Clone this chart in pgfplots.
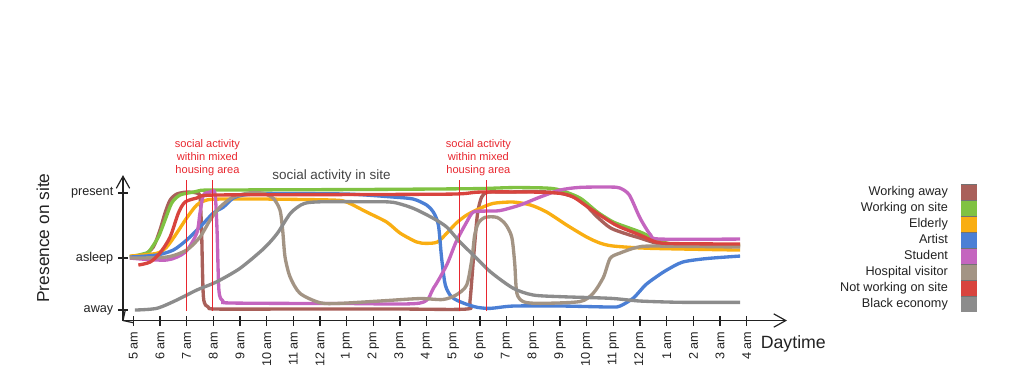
\documentclass[border=0pt]{standalone}
\usepackage{fontspec}
\setmainfont{Liberation Sans}
\usepackage{pgfplots}
\pgfplotsset{compat=1.18}
\usetikzlibrary{arrows.meta}
\definecolor{cWA}{HTML}{A9605A}
\definecolor{cWS}{HTML}{80C242}
\definecolor{cEL}{HTML}{F9AE12}
\definecolor{cAR}{HTML}{4B7FD5}
\definecolor{cST}{HTML}{C465BF}
\definecolor{cHV}{HTML}{A39484}
\definecolor{cNW}{HTML}{D8443E}
\definecolor{cBE}{HTML}{8C8C8C}
\definecolor{cAnn}{HTML}{E8272F}
\definecolor{cTxt}{HTML}{222222}
\begin{document}
\begin{tikzpicture}[x=1pt,y=1pt]
\path[use as bounding box] (0,0) rectangle (768,292.5);
\begin{axis}[
  at={(92.25pt,52.1pt)}, anchor=south west,
  scale only axis, width=498pt, height=109.1pt,
  xmin=-0.386, xmax=24.51, ymin=-10.5, ymax=135,
  axis x line=bottom, axis y line=left,
  axis line style={line width=0.9pt, cTxt, -{Straight Barb[length=9pt,width=10pt]}},
  xtick={0,...,23},
  xticklabels={5 am,6 am,7 am,8 am,9 am,10 am,11 am,12 am,1 pm,2 pm,3 pm,4 pm,5 pm,6 pm,7 pm,8 pm,9 pm,10 pm,11 pm,12 pm,1 am,2 am,3 am,4 am},
  ytick={0,52,117},
  yticklabels={away,asleep,present},
  xtick align=center, ytick align=center, major tick length=7.5pt,
  tick style={line width=0.9pt, cTxt},
  xticklabel shift=1pt,
  xticklabel style={rotate=90, anchor=east, font=\fontsize{9.5}{11}\selectfont, text=cTxt},
  yticklabel style={font=\fontsize{9.5}{11}\selectfont, text=cTxt},
  ylabel={Presence on site},
  ylabel style={at={(axis description cs:-0.1205,0.567)}, anchor=center, font=\fontsize{13}{15}\selectfont, text=cTxt},
  xlabel={Daytime},
  xlabel style={at={(axis description cs:1.0095,-0.161)}, anchor=center, font=\fontsize{13.3}{15}\selectfont, text=cTxt},
  clip=false,
  legend plot pos=right,
  legend image code/.code={\draw[#1, line width=11.8pt, line cap=butt] (0pt,0pt) -- (12pt,0pt);
     \draw[black!55, line width=0.4pt] (0pt,5.9pt) -- (12pt,5.9pt);},
  legend style={at={(axis description cs:1.298,0.9386)}, anchor=north east, draw=none, fill=none,
     font=\fontsize{9.5}{11}\selectfont, text=cTxt, row sep=0pt, column sep=3.75pt, inner sep=0pt,
     nodes={inner sep=0pt, minimum height=11.8pt}},
  legend cell align=right,
  every axis plot/.append style={line width=2.5pt, smooth, tension=0.45},
]
% Working away
\addplot[cWA] coordinates {(-0.13,53) (0.38,55) (0.75,63) (1,80) (1.19,97) (1.38,110) (1.63,116) (2,118) (2.38,117) (2.5,113) (2.56,80) (2.63,13) (2.81,3) (3.13,1) (6,1) (10,1) (12.5,1) (12.62,8) (12.75,50) (12.9,95) (13.06,113) (13.3,118) (14,118) (15,118.5) (16,117) (16.75,110) (17.4,93) (17.9,82) (18.5,76) (19,72) (19.6,67) (20.2,65) (22.75,64)};
\addlegendentry{Working away}
% Working on site
\addplot[cWS] coordinates {(-0.13,53) (0.5,57) (0.63,60) (0.94,73) (1.19,90) (1.44,107) (1.75,115) (2.25,118) (2.5,119.5) (3,120) (8,120.5) (11,121) (13,121.5) (14.25,122.5) (15.5,122) (16,120) (16.75,112) (17.4,98) (18,88) (18.6,82) (19.1,77) (19.6,70) (20,67) (20.5,65.5) (22.75,65)};
\addlegendentry{Working on site}
% Elderly
\addplot[cEL] coordinates {(-0.13,54) (0.875,56.7) (1.25,63) (1.63,77) (2,92) (2.38,105) (2.75,110) (3.25,111) (5,111) (7.5,110) (8,108) (8.75,98) (9.5,88) (10,77) (10.63,68) (11,66.7) (11.4,68) (11.75,76.7) (12.1,86.7) (12.5,95) (13,101.7) (13.5,106.7) (14.25,108) (14.9,105) (15.5,98) (16.25,85) (17,73) (17.5,67) (18,64) (19.4,61.7) (22.75,60)};
\addlegendentry{Elderly}
% Artist
\addplot[cAR] coordinates {(-0.13,53) (0.875,55) (1.5,60) (2,70) (2.5,83) (3,97) (3.38,103) (3.75,112) (4.13,115) (5,116.5) (8,116) (9.75,113) (10.5,111) (11,105) (11.25,98) (11.44,85) (11.56,52) (11.7,25) (11.94,13) (12.4,6.7) (12.9,2.7) (13.4,1.7) (14.25,4) (16.1,4) (17.9,3) (18.25,4) (18.75,12) (19.2,25) (19.6,33) (20,40) (20.6,48) (21.5,51.5) (22.75,54)};
\addlegendentry{Artist}
% Student
\addplot[cST] coordinates {(-0.13,52) (1.25,50) (1.95,58) (2.38,77) (2.5,97) (2.63,115) (2.88,118) (3.06,117) (3.14,80) (3.21,20) (3.36,9) (3.74,7) (8,6.5) (10.75,7) (11.25,21.7) (11.75,45) (12.1,68) (12.5,88) (12.75,98) (13.25,99) (13.75,99.5) (14.5,105) (15.25,113) (16,120) (16.75,122.7) (17.9,123) (18.25,122) (18.6,115) (19,92) (19.4,75) (19.75,71) (22.75,71)};
\addlegendentry{Student}
% Hospital visitor
\addplot[cHV] coordinates {(-0.13,52) (1.25,53) (2,60) (2.5,73) (2.88,90) (3.25,103) (3.75,113) (4.38,117.3) (4.88,116.7) (5.25,111.7) (5.5,100) (5.6,80) (5.69,53) (5.88,33) (6.25,16.7) (7,7.3) (7.75,6.7) (9.4,9.3) (10.75,11.5) (11.6,10.5) (12.1,15) (12.5,25) (12.7,52) (12.8,75) (12.94,87) (13.19,92.7) (13.63,92.7) (13.95,86) (14.19,73) (14.3,47) (14.38,17) (14.63,8.3) (15.25,6.7) (16.75,8.5) (17.25,17) (17.63,33) (17.88,51.7) (18.25,57) (18.88,62.7) (19.5,64) (22.75,63)};
\addlegendentry{Hospital visitor}
% Not working on site
\addplot[cNW] coordinates {(0.19,45) (0.63,48) (1,57) (1.38,73) (1.69,97) (1.94,108) (2.38,112) (3,115) (8,115.5) (12,116) (13,118) (15,118) (16,116.7) (16.5,113) (17.1,102) (17.9,88) (18.25,83) (19,75) (19.6,68) (20.2,66.5) (22.75,66)};
\addlegendentry{Not working on site}
% Black economy
\addplot[cBE] coordinates {(0.06,0) (0.88,1.7) (1.63,10) (2.38,20) (3.13,28.3) (4,41.7) (4.9,61.7) (5.4,76.7) (5.9,97) (6.4,106.5) (7.1,108.3) (8.9,108.3) (9.75,107.7) (10.5,101.7) (11.25,91.7) (11.75,83) (12.25,68) (12.75,55) (13.4,38) (14.25,21.7) (15,15) (16.1,13.3) (17.9,11.7) (19,9) (20.6,7.7) (22.75,7.7)};
\addlegendentry{Black economy}
% annotation lines
\addplot[cAnn, line width=0.7pt, sharp plot, forget plot] coordinates {(1.98,-1) (1.98,130)};
\addplot[cAnn, line width=0.7pt, sharp plot, forget plot] coordinates {(2.98,-1) (2.98,130)};
\addplot[cAnn, line width=0.7pt, sharp plot, forget plot] coordinates {(12.22,-1) (12.22,130)};
\addplot[cAnn, line width=0.7pt, sharp plot, forget plot] coordinates {(13.25,-1) (13.25,130)};
\node[text=cAnn, align=center, font=\fontsize{8.3}{9.6}\selectfont] at (axis cs:2.78,152.7) {social activity\\within mixed\\housing area};
\node[text=cAnn, align=center, font=\fontsize{8.3}{9.6}\selectfont] at (axis cs:12.94,152.7) {social activity\\within mixed\\housing area};
\node[text=cTxt!85, font=\fontsize{10.1}{12}\selectfont] at (axis cs:7.43,134) {social activity in site};
\draw[line width=0.9pt, cTxt] (axis cs:-0.386,-10.5) -- ++(0,-9.5pt);
\draw[line width=0.9pt, cTxt] (axis cs:-0.386,-10.5) -- ++(-6pt,0);
\end{axis}
\end{tikzpicture}
\end{document}
